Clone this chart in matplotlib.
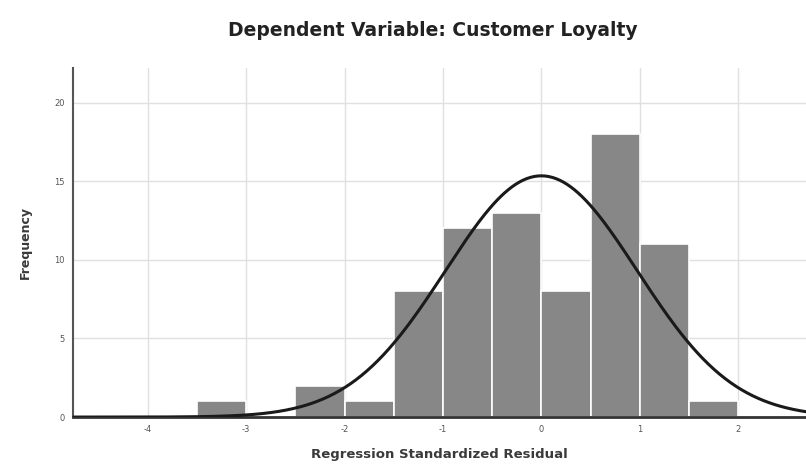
import numpy as np
import matplotlib.pyplot as plt

plt.rcParams['axes.unicode_minus'] = False

# histogram of standardized residuals (bin edges, counts)
bin_edges = [-3.5, -3.0, -2.5, -2.0, -1.5, -1.0, -0.5, 0.0, 0.5, 1.0, 1.5, 2.0]
counts = [1, 0, 2, 1, 8, 12, 13, 8, 18, 11, 1]
mean_resid = 0.0
sd_resid = 0.975
n_obs = sum(counts)

x_ticks = [-4, -3, -2, -1, 0, 1, 2]
y_ticks = [0, 5, 10, 15, 20]

fig = plt.figure(figsize=(8.06, 4.66), dpi=100)
ax = fig.add_axes([0.0906, 0.105, 0.9094, 0.749])

widths = np.diff(bin_edges)
ax.bar(bin_edges[:-1], counts, width=widths, align='edge',
       color='#878787', edgecolor='white', linewidth=1.2, zorder=2)

xmin, xmax = -4.76, 2.69
xs = np.linspace(xmin, xmax, 400)
bw = 0.5
ys = n_obs * bw / (sd_resid * np.sqrt(2 * np.pi)) * np.exp(-0.5 * ((xs - mean_resid) / sd_resid) ** 2)
ax.plot(xs, ys, color='#1a1a1a', linewidth=2.2, zorder=3)

ax.set_xlim(xmin, xmax)
ax.set_ylim(0, 22.2)
ax.set_xticks(x_ticks)
ax.set_yticks(y_ticks)
ax.tick_params(labelsize=6, length=0, colors='#555555', pad=6)
ax.grid(True, color='#e0e0e0', linewidth=1.0, zorder=0)
ax.set_axisbelow(True)

for s in ['top', 'right']:
    ax.spines[s].set_visible(False)
ax.spines['left'].set_color('#555555')
ax.spines['left'].set_linewidth(1.5)
ax.spines['bottom'].set_color('#333333')
ax.spines['bottom'].set_linewidth(2)

ax.set_xlabel('Regression Standardized Residual', fontsize=9.5, fontweight='bold',
              color='#3a3a3a', labelpad=10)
ax.set_ylabel('Frequency', fontsize=9, fontweight='bold', color='#3a3a3a', labelpad=16)
fig.text(0.537, 0.935, 'Dependent Variable: Customer Loyalty', ha='center', va='center',
         fontsize=13.5, fontweight='bold', color='#222222')

fig.savefig('out.png', dpi=100)
